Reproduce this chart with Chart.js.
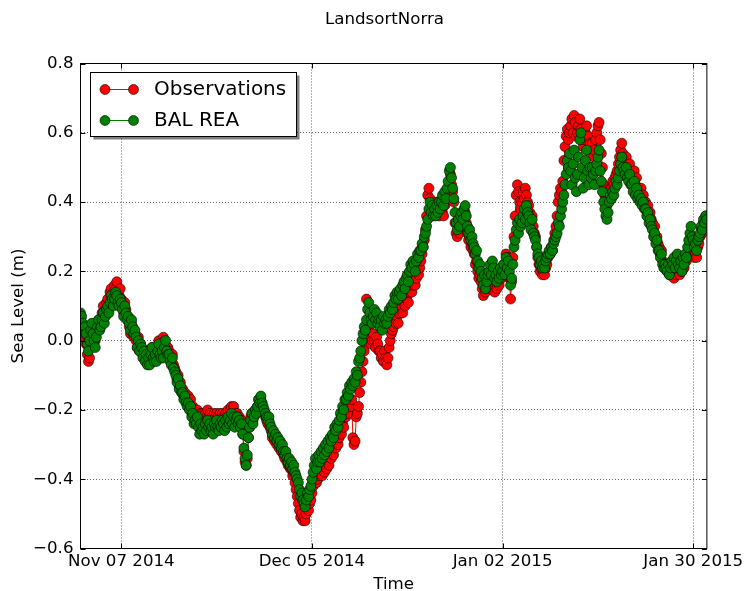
<!DOCTYPE html>
<html><head><meta charset="utf-8">
<script src="https://cdn.jsdelivr.net/npm/chart.js@4/dist/chart.umd.min.js"></script>
<style>html,body{margin:0;padding:0;background:#fff;}canvas{display:block;}</style>
</head><body>
<canvas id="c" width="747" height="591"></canvas>
<script>
const chartTitle = "LandsortNorra";
const xLabel = "Time";
const yLabel = "Sea Level (m)";
const seriesNames = ["Observations", "BAL REA"];
const samplesPerDay = 6; // days since 2014-11-01, 4-hourly samples
const xTickDays = [6, 34, 62, 90];
const xTickLabels = ["Nov 07 2014", "Dec 05 2014", "Jan 02 2015", "Jan 30 2015"];
const yTicks = [-0.6, -0.4, -0.2, 0.0, 0.2, 0.4, 0.6, 0.8];

const observations = [
 0.07,0.05,0.03,0.01,0.02,-0.01, -0.04,-0.06,-0.05,-0.02,0.01,0.03, 0.02,0.00,0.03,0.05,0.06,0.04,
 0.06,0.08,0.10,0.07,0.09,0.11, 0.12,0.10,0.14,0.15,0.13,0.14, 0.16,0.15,0.17,0.14,0.13,0.15,
 0.12,0.10,0.08,0.11,0.09,0.07, 0.06,0.04,0.02,0.05,0.03,0.01, 0.02,0.00,-0.02,0.01,-0.03,-0.01,
 -0.02,-0.04,-0.03,-0.05,-0.04,-0.06, -0.04,-0.06,-0.03,-0.02,-0.04,-0.05, -0.03,-0.05,-0.02,0.00,-0.03,-0.04,
 -0.01,0.01,0.00,-0.02,-0.03,-0.02, -0.03,-0.05,-0.06,-0.04,-0.07,-0.08, -0.09,-0.11,-0.10,-0.13,-0.12,-0.14,
 -0.14,-0.16,-0.15,-0.17,-0.18,-0.16, -0.18,-0.17,-0.20,-0.19,-0.21,-0.20, -0.21,-0.20,-0.22,-0.23,-0.21,-0.22,
 -0.21,-0.23,-0.21,-0.22,-0.20,-0.22, -0.21,-0.23,-0.22,-0.23,-0.21,-0.22, -0.21,-0.22,-0.23,-0.21,-0.22,-0.21,
 -0.22,-0.23,-0.21,-0.22,-0.20,-0.22, -0.20,-0.19,-0.21,-0.19,-0.22,-0.21, -0.21,-0.23,-0.22,-0.24,-0.23,-0.27,
 -0.32,-0.35,-0.36,-0.34,-0.28,-0.25, -0.22,-0.21,-0.23,-0.21,-0.20,-0.21, -0.19,-0.17,-0.18,-0.17,-0.18,-0.20,
 -0.21,-0.22,-0.23,-0.24,-0.23,-0.25, -0.26,-0.28,-0.27,-0.29,-0.28,-0.30, -0.29,-0.31,-0.30,-0.32,-0.31,-0.33,
 -0.34,-0.33,-0.35,-0.36,-0.36,-0.37, -0.37,-0.39,-0.38,-0.41,-0.43,-0.45, -0.47,-0.49,-0.51,-0.50,-0.52,-0.51,
 -0.52,-0.50,-0.48,-0.49,-0.47,-0.46, -0.44,-0.42,-0.41,-0.39,-0.41,-0.40, -0.38,-0.39,-0.37,-0.39,-0.36,-0.38,
 -0.36,-0.37,-0.35,-0.36,-0.33,-0.34, -0.32,-0.33,-0.30,-0.31,-0.29,-0.30, -0.28,-0.26,-0.27,-0.24,-0.25,-0.22,
 -0.22,-0.20,-0.21,-0.18,-0.19,-0.17, -0.28,-0.30,-0.29,-0.22,-0.21,-0.19, -0.15,-0.12,-0.09,-0.06,-0.03,0.00,
 0.12,0.06,0.03,0.01,-0.01,0.00, 0.02,0.00,-0.02,0.01,-0.01,-0.03, -0.03,-0.05,-0.04,-0.06,-0.03,-0.05,
 -0.07,-0.05,-0.02,0.00,0.02,0.03, 0.04,0.06,0.05,0.07,0.05,0.08, 0.09,0.10,0.08,0.11,0.10,0.12,
 0.13,0.11,0.14,0.15,0.14,0.16, 0.17,0.16,0.18,0.20,0.19,0.21, 0.23,0.25,0.27,0.29,0.32,0.36,
 0.42,0.44,0.41,0.39,0.37,0.38, 0.39,0.37,0.40,0.38,0.36,0.38, 0.40,0.37,0.36,0.39,0.41,0.43,
 0.44,0.46,0.48,0.45,0.43,0.40, 0.34,0.31,0.30,0.32,0.31,0.33, 0.35,0.33,0.36,0.37,0.34,0.31,
 0.29,0.30,0.27,0.28,0.26,0.25, 0.22,0.23,0.20,0.18,0.19,0.17, 0.15,0.13,0.16,0.14,0.15,0.17,
 0.16,0.18,0.15,0.19,0.17,0.14, 0.17,0.15,0.18,0.16,0.19,0.18, 0.20,0.22,0.21,0.25,0.23,0.24,
 0.18,0.12,0.17,0.24,0.30,0.36, 0.42,0.45,0.43,0.40,0.38,0.40, 0.43,0.41,0.44,0.42,0.40,0.39,
 0.37,0.35,0.36,0.33,0.31,0.30, 0.27,0.24,0.22,0.20,0.21,0.19, 0.20,0.19,0.21,0.22,0.24,0.25,
 0.25,0.27,0.26,0.29,0.31,0.33, 0.36,0.40,0.42,0.44,0.43,0.46, 0.52,0.56,0.59,0.61,0.58,0.60,
 0.62,0.64,0.60,0.65,0.63,0.59, 0.60,0.62,0.64,0.61,0.58,0.56, 0.58,0.60,0.62,0.59,0.55,0.57,
 0.55,0.57,0.53,0.55,0.58,0.60, 0.62,0.63,0.58,0.54,0.50,0.45, 0.42,0.40,0.39,0.41,0.43,0.44,
 0.44,0.46,0.45,0.47,0.48,0.49, 0.51,0.53,0.55,0.57,0.54,0.53, 0.52,0.53,0.50,0.49,0.51,0.48,
 0.48,0.46,0.49,0.45,0.47,0.44, 0.44,0.43,0.44,0.42,0.42,0.40, 0.40,0.38,0.39,0.36,0.37,0.35,
 0.34,0.32,0.33,0.30,0.30,0.28, 0.27,0.25,0.26,0.23,0.22,0.22, 0.21,0.20,0.21,0.19,0.20,0.19,
 0.19,0.18,0.20,0.19,0.21,0.20, 0.19,0.21,0.20,0.23,0.21,0.24, 0.23,0.25,0.27,0.29,0.30,0.28,
 0.26,0.24,0.25,0.24,0.27,0.28, 0.30,0.32,0.31,0.34,0.33,0.36, 0.35
];

const balRea = [
 0.08,0.07,0.05,0.03,0.04,0.02, -0.01,-0.03,0.00,0.03,0.05,0.02, 0.00,-0.02,0.01,0.04,0.06,0.03,
 0.04,0.06,0.08,0.05,0.07,0.09, 0.10,0.08,0.11,0.13,0.12,0.10, 0.12,0.14,0.13,0.11,0.10,0.12,
 0.11,0.09,0.07,0.10,0.08,0.06, 0.07,0.05,0.03,0.06,0.04,0.02, 0.03,0.01,-0.02,0.00,-0.03,-0.01,
 -0.02,-0.05,-0.03,-0.06,-0.04,-0.07, -0.05,-0.07,-0.04,-0.02,-0.05,-0.06, -0.04,-0.06,-0.03,-0.01,-0.04,-0.05,
 -0.03,-0.05,-0.02,0.00,-0.03,-0.04, -0.04,-0.06,-0.07,-0.05,-0.08,-0.09, -0.10,-0.12,-0.11,-0.14,-0.13,-0.15,
 -0.15,-0.17,-0.16,-0.18,-0.19,-0.18, -0.20,-0.19,-0.22,-0.21,-0.24,-0.23, -0.24,-0.22,-0.25,-0.27,-0.24,-0.26,
 -0.25,-0.27,-0.24,-0.26,-0.23,-0.25, -0.24,-0.26,-0.25,-0.27,-0.24,-0.25, -0.23,-0.25,-0.26,-0.24,-0.25,-0.23,
 -0.24,-0.26,-0.23,-0.25,-0.22,-0.24, -0.23,-0.21,-0.24,-0.22,-0.25,-0.23, -0.22,-0.24,-0.23,-0.25,-0.24,-0.27,
 -0.31,-0.34,-0.36,-0.33,-0.28,-0.25, -0.23,-0.21,-0.24,-0.22,-0.20,-0.21, -0.19,-0.17,-0.18,-0.16,-0.18,-0.19,
 -0.20,-0.21,-0.22,-0.23,-0.22,-0.24, -0.25,-0.27,-0.26,-0.28,-0.27,-0.29, -0.28,-0.30,-0.29,-0.31,-0.30,-0.32,
 -0.33,-0.32,-0.34,-0.35,-0.34,-0.36, -0.35,-0.37,-0.36,-0.38,-0.39,-0.40, -0.41,-0.43,-0.45,-0.44,-0.46,-0.47,
 -0.48,-0.46,-0.44,-0.45,-0.43,-0.42, -0.40,-0.38,-0.36,-0.34,-0.37,-0.35, -0.33,-0.35,-0.32,-0.34,-0.31,-0.33,
 -0.30,-0.32,-0.29,-0.31,-0.28,-0.29, -0.27,-0.28,-0.25,-0.26,-0.24,-0.25, -0.23,-0.21,-0.22,-0.19,-0.20,-0.17,
 -0.17,-0.15,-0.16,-0.13,-0.14,-0.12, -0.13,-0.11,-0.12,-0.09,-0.10,-0.06, -0.05,-0.03,0.00,0.02,0.04,0.03,
 0.06,0.09,0.11,0.08,0.06,0.05, 0.07,0.09,0.06,0.08,0.05,0.06, 0.04,0.06,0.03,0.07,0.05,0.06,
 0.05,0.07,0.09,0.08,0.10,0.09, 0.11,0.13,0.12,0.14,0.12,0.14, 0.15,0.13,0.16,0.17,0.15,0.18,
 0.19,0.17,0.20,0.22,0.21,0.23, 0.22,0.20,0.23,0.25,0.24,0.26, 0.26,0.28,0.27,0.30,0.31,0.33,
 0.35,0.38,0.40,0.37,0.39,0.36, 0.38,0.36,0.39,0.37,0.40,0.38, 0.40,0.42,0.39,0.43,0.41,0.44,
 0.46,0.49,0.50,0.47,0.44,0.41, 0.37,0.34,0.32,0.35,0.33,0.36, 0.37,0.35,0.38,0.39,0.36,0.33,
 0.31,0.32,0.29,0.30,0.28,0.27, 0.25,0.26,0.23,0.21,0.22,0.20, 0.18,0.16,0.19,0.15,0.17,0.19,
 0.20,0.22,0.19,0.23,0.21,0.18, 0.19,0.17,0.20,0.18,0.21,0.19, 0.20,0.22,0.19,0.24,0.21,0.23,
 0.20,0.16,0.18,0.22,0.27,0.29, 0.32,0.34,0.31,0.35,0.33,0.34, 0.36,0.38,0.35,0.39,0.37,0.36,
 0.34,0.32,0.35,0.31,0.30,0.29, 0.27,0.25,0.24,0.22,0.23,0.21, 0.22,0.21,0.23,0.24,0.25,0.26,
 0.25,0.27,0.26,0.28,0.29,0.30, 0.31,0.34,0.33,0.36,0.38,0.40, 0.42,0.45,0.48,0.52,0.50,0.54,
 0.49,0.45,0.51,0.55,0.47,0.43, 0.48,0.53,0.58,0.60,0.50,0.44, 0.47,0.52,0.55,0.49,0.45,0.50,
 0.47,0.50,0.48,0.45,0.49,0.51, 0.53,0.55,0.49,0.46,0.43,0.40, 0.38,0.36,0.35,0.37,0.40,0.42,
 0.41,0.43,0.42,0.44,0.46,0.45, 0.47,0.49,0.51,0.53,0.50,0.49, 0.48,0.50,0.47,0.46,0.48,0.45,
 0.45,0.43,0.46,0.42,0.44,0.41, 0.42,0.40,0.41,0.39,0.40,0.38, 0.38,0.36,0.37,0.34,0.35,0.33,
 0.32,0.30,0.31,0.28,0.29,0.26, 0.26,0.24,0.25,0.22,0.21,0.22, 0.21,0.20,0.22,0.19,0.21,0.23,
 0.22,0.24,0.21,0.23,0.25,0.22, 0.21,0.23,0.20,0.24,0.22,0.25, 0.24,0.27,0.29,0.31,0.33,0.30,
 0.29,0.27,0.28,0.26,0.29,0.30, 0.31,0.33,0.32,0.35,0.34,0.36, 0.35
];

const FONT = "DejaVu Sans";
const FS = 16.67;
const toPts = arr => arr.map((v, i) => ({x: i / samplesPerDay, y: v}));
const fmtY = v => { const s = (Math.abs(v) < 1e-9 ? 0 : v).toFixed(1); return s.replace('-', '\u2212'); };

const decor = {
  id: 'decor',
  afterDraw(chart) {
    const ctx = chart.ctx, a = chart.chartArea;
    const xs = chart.scales.x, ys = chart.scales.y;
    ctx.save();
    ctx.strokeStyle = '#000'; ctx.lineWidth = 1;
    ctx.strokeRect(a.left, a.top, a.right - a.left, a.bottom - a.top);
    ctx.beginPath();
    xTickDays.forEach(d => {
      const px = Math.round(xs.getPixelForValue(d)) + 0.5;
      ctx.moveTo(px, a.bottom); ctx.lineTo(px, a.bottom - 5);
      ctx.moveTo(px, a.top); ctx.lineTo(px, a.top + 5);
    });
    yTicks.forEach(v => {
      const py = Math.round(ys.getPixelForValue(v)) + 0.5;
      ctx.moveTo(a.left, py); ctx.lineTo(a.left + 5, py);
      ctx.moveTo(a.right, py); ctx.lineTo(a.right - 5, py);
    });
    ctx.stroke();

    ctx.fillStyle = '#000';
    ctx.font = FS + 'px "' + FONT + '"';
    ctx.textAlign = 'center'; ctx.textBaseline = 'middle';
    ctx.fillText(chartTitle, 384.5, 20);
    ctx.fillText(xLabel, (a.left + a.right) / 2, 585);
    ctx.save();
    ctx.translate(18.5, (a.top + a.bottom) / 2);
    ctx.rotate(-Math.PI / 2);
    ctx.fillText(yLabel, 0, 0);
    ctx.restore();

    // legend
    const lx = 90.5, ly = 72.5, lw = 206, lh = 64;
    ctx.fillStyle = 'rgba(0,0,0,0.5)';
    ctx.fillRect(lx + 3, ly + 3, lw, lh);
    ctx.fillStyle = '#fff';
    ctx.fillRect(lx, ly, lw, lh);
    ctx.strokeStyle = '#000'; ctx.lineWidth = 1;
    ctx.strokeRect(lx, ly, lw, lh);
    const cols = ['#ff0000', '#008000'];
    const rowsY = [89.5, 120.5];
    ctx.font = '20px "' + FONT + '"';
    ctx.textAlign = 'left';
    seriesNames.forEach((n, i) => {
      const y = rowsY[i];
      ctx.strokeStyle = cols[i]; ctx.lineWidth = 1;
      ctx.beginPath(); ctx.moveTo(105, y); ctx.lineTo(133.5, y); ctx.stroke();
      [105, 133.5].forEach(cx => {
        ctx.beginPath(); ctx.arc(cx, y, 5, 0, Math.PI * 2);
        ctx.fillStyle = cols[i]; ctx.fill();
        ctx.strokeStyle = 'rgba(0,0,0,0.75)'; ctx.lineWidth = 0.8; ctx.stroke();
      });
      ctx.fillStyle = '#000';
      ctx.fillText(n, 154, y);
    });
    ctx.restore();
  }
};

new Chart(document.getElementById('c'), {
  type: 'line',
  data: {
    datasets: [
      { label: seriesNames[0], data: toPts(observations), order: 2,
        borderColor: '#ff0000', borderWidth: 1, backgroundColor: '#ff0000',
        pointBackgroundColor: '#ff0000', pointBorderColor: 'rgba(0,0,0,0.7)', pointBorderWidth: 0.8,
        pointRadius: 5, clip: 0, tension: 0 },
      { label: seriesNames[1], data: toPts(balRea), order: 1,
        borderColor: '#008000', borderWidth: 1, backgroundColor: '#008000',
        pointBackgroundColor: '#008000', pointBorderColor: 'rgba(0,0,0,0.75)', pointBorderWidth: 0.8,
        pointRadius: 5, clip: 0, tension: 0 }
    ]
  },
  options: {
    responsive: false, animation: false, devicePixelRatio: 1,
    layout: { padding: { left: 0, top: 63.5, right: 37.5, bottom: 0 } },
    plugins: { legend: { display: false }, title: { display: false }, tooltip: { enabled: false } },
    scales: {
      x: {
        type: 'linear', min: 0, max: 92,
        afterBuildTicks: s => { s.ticks = xTickDays.map(v => ({value: v})); },
        afterFit: s => { s.height = 42.5; },
        ticks: { callback: v => xTickLabels[xTickDays.indexOf(v)], color: '#000',
                 font: { family: FONT, size: FS }, padding: 3, maxRotation: 0, autoSkip: false },
        grid: { color: 'rgba(0,0,0,0.6)', lineWidth: 1, tickLength: 0 },
        border: { display: false, dash: [1, 2] }
      },
      y: {
        type: 'linear', min: -0.6, max: 0.8,
        afterBuildTicks: s => { s.ticks = yTicks.map(v => ({value: v})); },
        afterFit: s => { s.width = 80.5; },
        ticks: { callback: v => fmtY(v), color: '#000', font: { family: FONT, size: FS }, padding: 7 },
        grid: { color: 'rgba(0,0,0,0.6)', lineWidth: 1, tickLength: 0 },
        border: { display: false, dash: [1, 2] }
      }
    }
  },
  plugins: [decor]
});
</script>
</body></html>
